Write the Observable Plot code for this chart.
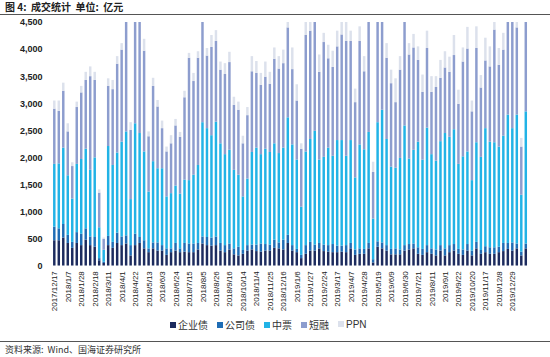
<!DOCTYPE html>
<html><head><meta charset="utf-8">
<script src="https://cdn.jsdelivr.net/npm/d3@7"></script>
<script src="https://cdn.jsdelivr.net/npm/@observablehq/plot@0.6"></script>
<style>
body{margin:0;background:#fff;}
#wrap{position:relative;width:550px;height:357px;overflow:hidden;font-family:"Liberation Sans","Noto Sans CJK SC",sans-serif;}
#chart{position:absolute;left:0;top:0;}
#title{position:absolute;left:5px;top:0px;font-size:10px;font-weight:bold;color:#222;font-family:"Noto Sans CJK SC";line-height:13px;white-space:pre;}
.hr{position:absolute;left:0;width:550px;height:0;border-top:1.5px solid #555;}
#legend{position:absolute;top:318px;left:170px;display:flex;gap:9px;font-size:10px;color:#333;font-family:"Noto Sans CJK SC";line-height:14px;}
#legend span.sw{display:inline-block;width:6px;height:6px;margin-right:2px;vertical-align:1px;}
#source{position:absolute;left:5px;top:344px;font-size:9px;color:#333;font-family:"Noto Sans CJK SC";line-height:12px;white-space:pre;}
</style>
</head><body>
<div id="wrap">
<div id="chart"></div>
<div id="title">图 4:  成交统计  单位:  亿元</div>
<div class="hr" style="top:14px"></div>
<div id="legend"></div>
<div class="hr" style="top:341px"></div>
<div id="source">资料来源:  Wind、国海证券研究所</div>
</div>
<script>
const seriesNames = ["企业债","公司债","中票","短融","PPN"];
const seriesColors = ["#1c2b5e","#1f6db5","#22b3e6","#8d9dce","#dce1ec"];

const tickLabels = ["2017/12/17","2018/1/7","2018/1/28","2018/2/18","2018/3/11","2018/4/1","2018/4/22","2018/5/13","2018/6/3","2018/6/24","2018/7/15","2018/8/5","2018/8/26","2018/9/16","2018/10/14","2018/11/4","2018/11/25","2018/12/16","2019/1/6","2019/1/27","2019/2/24","2019/3/17","2019/4/7","2019/4/28","2019/5/19","2019/6/9","2019/6/30","2019/7/21","2019/8/11","2019/9/1","2019/9/22","2019/10/20","2019/11/17","2019/12/8","2019/12/29"];

const qyz = [470,470,520,420,330,420,380,480,380,350,
 100,50,380,330,420,380,410,190,380,420,
 320,250,320,280,280,200,250,280,250,260,
 250,250,300,410,380,370,380,280,250,300,
 210,190,220,280,300,270,260,280,280,330,
 320,300,420,280,250,140,220,280,280,320,
 270,260,250,250,260,250,320,200,220,220,
 320,60,350,320,280,210,210,210,280,300,
 320,220,200,250,220,190,280,190,250,280,
 220,200,280,190,320,220,250,220,220,250,
 270,310,280,320,190,320];
const gsz = [250,220,250,150,110,200,210,210,160,180,
 40,25,170,110,190,160,150,190,210,110,
 150,70,110,150,100,120,70,140,70,160,
 160,160,120,130,150,150,160,140,130,110,
 110,160,70,100,90,120,150,120,110,150,
 110,180,150,100,60,60,160,160,110,100,
 120,120,150,120,110,130,100,100,100,90,
 100,60,100,110,100,100,110,90,100,100,
 90,120,110,130,100,110,100,130,130,120,
 90,100,120,90,120,70,110,120,120,100,
 150,110,150,90,70,90];
const zp = [1160,1200,1410,1100,800,1260,1380,1470,1230,1470,
 570,220,1660,1420,1480,1750,1920,850,2040,1920,
 1640,1050,1500,1370,1420,960,1020,1060,1010,1170,
 1170,1270,1440,2110,2010,1890,2120,1840,1680,1730,
 1450,1330,990,1230,1710,1790,1650,1760,1710,1780,
 1650,1700,2170,1860,1650,890,1730,1900,2100,1540,
 1620,1800,1630,1950,1950,1650,1900,1330,1920,1840,
 2050,750,2200,2450,1960,1520,1490,1690,2210,1580,
 1730,1950,1650,2170,1740,1640,1920,2130,2000,2120,
 1570,1720,1710,1300,1840,1720,2180,1950,1940,1850,
 1980,2370,2110,2380,1050,2440];
const dr = [1020,970,1050,810,600,1050,1230,1270,1730,1430,
 640,200,1110,1400,1640,1700,2100,1280,2000,2100,
 1860,1020,1390,1140,740,830,920,1110,1050,1520,
 2260,1730,1980,2100,1340,1630,1490,1360,1480,1620,
 1200,1200,980,1170,1490,1380,1280,1330,1260,1560,
 1560,1560,1660,1390,1090,1070,2150,2000,2100,1620,
 2120,1650,1640,1730,1950,2120,1830,1390,1910,1440,
 2100,860,2000,1900,1500,1540,1210,1630,2000,1920,
 1890,1510,1250,1470,1150,1360,1170,1210,1200,1370,
 1110,1750,1900,1270,1740,1280,1250,1390,2080,1510,
 1590,1900,2100,1610,890,1900];
const ppn = [150,190,150,150,70,100,120,150,180,150,
 60,25,140,170,140,120,200,140,200,200,
 220,90,150,120,140,90,150,120,90,120,
 90,150,120,200,140,220,200,150,200,190,
 150,150,140,150,280,220,220,280,220,210,
 230,250,200,400,300,100,250,200,200,320,
 170,250,300,290,230,350,190,250,270,280,
 200,190,200,200,270,250,440,250,200,210,
 250,250,320,320,290,200,330,300,280,370,
 260,260,400,200,400,230,420,370,200,310,
 310,200,200,200,160,200];

const yTicks = [0,500,1000,1500,2000,2500,3000,3500,4000,4500];

const seriesValues = [qyz, gsz, zp, dr, ppn];
const n = qyz.length;
const data = [];
for (let i = 0; i < n; i++) {
  seriesNames.forEach((s, k) => data.push({i, series: s, value: seriesValues[k][i]}));
}
const xTicks = d3.range(0, n, 3).filter(i => i / 3 < tickLabels.length);

const plot = Plot.plot({
  width: 550,
  height: 357,
  marginTop: 22,
  marginBottom: 91.3,
  marginLeft: 51.04,
  marginRight: 20.96,
  style: {fontFamily: "Liberation Sans, sans-serif", fontSize: "8px", color: "#222", background: "transparent"},
  x: {type: "band", domain: d3.range(n), padding: 0.45, axis: null},
  y: {domain: [0, 4500], axis: null},
  color: {domain: seriesNames, range: seriesColors},
  marks: [
    Plot.barY(data, {x: "i", y: "value", fill: "series", clip: true}),
    Plot.axisY({ticks: yTicks, tickSize: 0, tickPadding: 9, fontSize: 9, fontWeight: "bold", tickFormat: d3.format(","), label: null, fill: "#222"}),
    Plot.axisX({ticks: xTicks, tickSize: 0, tickPadding: 5, tickRotate: -90, fontSize: 8, label: null, fill: "#222",
      tickFormat: i => tickLabels[i / 3]})
  ]
});
document.getElementById("chart").appendChild(plot);

const legend = document.getElementById("legend");
seriesNames.forEach((s, k) => {
  const item = document.createElement("div");
  const sw = document.createElement("span");
  sw.className = "sw";
  sw.style.background = seriesColors[k];
  item.appendChild(sw);
  item.appendChild(document.createTextNode(s));
  if (s === "PPN") item.style.fontFamily = "Liberation Sans";
  legend.appendChild(item);
});
</script>
</body></html>
